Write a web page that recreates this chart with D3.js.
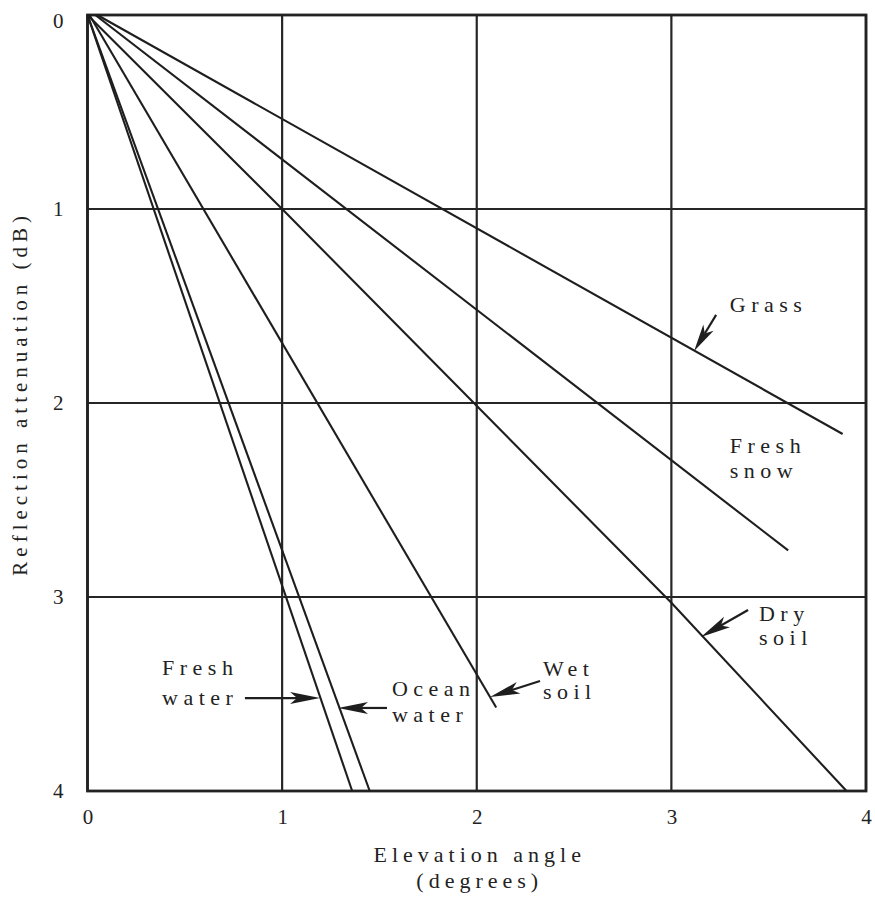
<!DOCTYPE html>
<html>
<head>
<meta charset="utf-8">
<style>
  html, body { margin: 0; padding: 0; background: #fff; }
  svg text { font-family: "Liberation Serif", "DejaVu Serif", serif; fill: #222; }
</style>
</head>
<body>
<div id="chart"></div>
<script src="https://cdnjs.cloudflare.com/ajax/libs/d3/7.8.5/d3.min.js"></script>
<script>
;(function() {
  "use strict";

  // Data ([elevation angle deg, attenuation dB])
  // ---------------------------------------------------------------------------
  var xTicks = [0, 1, 2, 3, 4];
  var yTicks = [0, 1, 2, 3, 4];

  var grass      = [[0.05, 0], [3.88, 2.16]];
  var freshSnow  = [[0.04, 0], [3.60, 2.76]];
  var drySoil    = [[0, 0], [1, 1], [3, 3.03], [3.90, 4]];
  var wetSoil    = [[0.01, 0], [2.10, 3.57]];
  var oceanWater = [[0, 0], [1.45, 4]];
  var freshWater = [[0, 0], [1.36, 4]];

  var series = [grass, freshSnow, drySoil, wetSoil, oceanWater, freshWater];

  // labels: lines of text, anchor point (data units)
  var labels = [
    { lines: ["Grass"],          at: [3.30, 1.53], step: 0 },
    { lines: ["Fresh", "snow"],  at: [3.30, 2.258], step: 0.129 },
    { lines: ["Dry", "soil"],    at: [3.45, 3.124], step: 0.124 },
    { lines: ["Wet", "soil"],    at: [2.34, 3.407], step: 0.118 },
    { lines: ["Ocean", "water"], at: [1.564, 3.510], step: 0.134 },
    { lines: ["Fresh", "water"], at: [0.383, 3.402], step: 0.155 }
  ];

  // arrows: tail -> tip (data units)
  var arrows = [
    [[3.23, 1.546], [3.117, 1.732]],
    [[3.394, 3.067], [3.152, 3.206]],
    [[2.325, 3.433], [2.068, 3.515]],
    [[1.539, 3.572], [1.287, 3.572]],
    [[0.809, 3.521], [1.195, 3.521]]
  ];

  // Dimensions
  // ---------------------------------------------------------------------------
  var W = 875, H = 897;
  var margin = { top: 15, left: 87.5, right: 9, bottom: 106 };

  var x = d3.scaleLinear().domain([0, 4]).range([margin.left, W - margin.right]);
  var y = d3.scaleLinear().domain([0, 4]).range([margin.top, H - margin.bottom]);

  var svg = d3.select("#chart").append("svg")
    .attr("width", W)
    .attr("height", H);

  // Grid + frame
  // ---------------------------------------------------------------------------
  var grid = svg.append("g").attr("stroke", "#262626").attr("stroke-width", 2.2);

  grid.selectAll("line.v")
    .data(xTicks)
    .enter().append("line")
      .attr("class", "v")
      .attr("x1", function(d) { return x(d); })
      .attr("x2", function(d) { return x(d); })
      .attr("y1", y(0))
      .attr("y2", y(4));

  grid.selectAll("line.h")
    .data(yTicks)
    .enter().append("line")
      .attr("class", "h")
      .attr("y1", function(d) { return y(d); })
      .attr("y2", function(d) { return y(d); })
      .attr("x1", x(0))
      .attr("x2", x(4));

  svg.append("rect")
    .attr("x", x(0))
    .attr("y", y(0))
    .attr("width", x(4) - x(0))
    .attr("height", y(4) - y(0))
    .attr("fill", "none")
    .attr("stroke", "#222")
    .attr("stroke-width", 2.8);

  // Axes (labels only)
  // ---------------------------------------------------------------------------
  var xAxis = d3.axisBottom(x).tickValues(xTicks).tickSize(0).tickPadding(18)
    .tickFormat(d3.format("d"));
  var yAxis = d3.axisLeft(y).tickValues(yTicks).tickSize(0).tickPadding(24)
    .tickFormat(d3.format("d"));

  svg.append("g")
    .attr("transform", "translate(0," + y(4) + ")")
    .call(xAxis)
    .call(function(g) { g.select(".domain").remove(); })
    .selectAll("text")
      .attr("font-size", 21)
      .attr("font-family", "Liberation Serif")
      .attr("fill", "#222");

  svg.append("g")
    .attr("transform", "translate(" + x(0) + ",0)")
    .call(yAxis)
    .call(function(g) { g.select(".domain").remove(); })
    .selectAll("text")
      .attr("font-size", 21)
      .attr("font-family", "Liberation Serif")
      .attr("fill", "#222")
      .attr("dy", function(d) { return d === 0 ? "0.6em" : "0.32em"; });

  svg.append("text")
    .attr("x", x(2) + 3)
    .attr("y", 862)
    .attr("text-anchor", "middle")
    .attr("font-size", 22)
    .attr("letter-spacing", 5)
    .text("Elevation angle");

  svg.append("text")
    .attr("x", x(2) + 3)
    .attr("y", 888)
    .attr("text-anchor", "middle")
    .attr("font-size", 22)
    .attr("letter-spacing", 5)
    .text("(degrees)");

  svg.append("text")
    .attr("transform", "translate(27," + y(1.95) + ") rotate(-90)")
    .attr("text-anchor", "middle")
    .attr("font-size", 21)
    .attr("letter-spacing", 5)
    .text("Reflection attenuation (dB)");

  // Curves
  // ---------------------------------------------------------------------------
  var line = d3.line()
    .x(function(d) { return x(d[0]); })
    .y(function(d) { return y(d[1]); });

  svg.append("g")
    .selectAll("path")
    .data(series)
    .enter().append("path")
      .attr("d", line)
      .attr("fill", "none")
      .attr("stroke", "#1e1e1e")
      .attr("stroke-width", 2.1);

  // Annotations
  // ---------------------------------------------------------------------------
  labels.forEach(function(l) {
    l.lines.forEach(function(s, i) {
      svg.append("text")
        .attr("x", x(l.at[0]))
        .attr("y", y(l.at[1] + i * l.step))
        .attr("font-size", 22)
        .attr("letter-spacing", 5.5)
        .text(s);
    });
  });

  arrows.forEach(function(a) {
    var x1 = x(a[0][0]), y1 = y(a[0][1]),
        x2 = x(a[1][0]), y2 = y(a[1][1]);
    var dx = x2 - x1, dy = y2 - y1, len = Math.sqrt(dx * dx + dy * dy);
    var ux = dx / len, uy = dy / len, nx = -uy, ny = ux;
    var head = Math.min(30, len * 0.65), hw = 6;
    var bx = x2 - ux * head, by = y2 - uy * head;
    var kx = x2 - ux * (head - 7), ky = y2 - uy * (head - 7);

    svg.append("line")
      .attr("x1", x1).attr("y1", y1)
      .attr("x2", kx).attr("y2", ky)
      .attr("stroke", "#1e1e1e")
      .attr("stroke-width", 2.2);

    svg.append("path")
      .attr("d", "M" + [x2, y2] +
        "L" + [bx + nx * hw, by + ny * hw] +
        "L" + [kx, ky] +
        "L" + [bx - nx * hw, by - ny * hw] + "Z")
      .attr("fill", "#1e1e1e");
  });
})();
</script>
</body>
</html>
